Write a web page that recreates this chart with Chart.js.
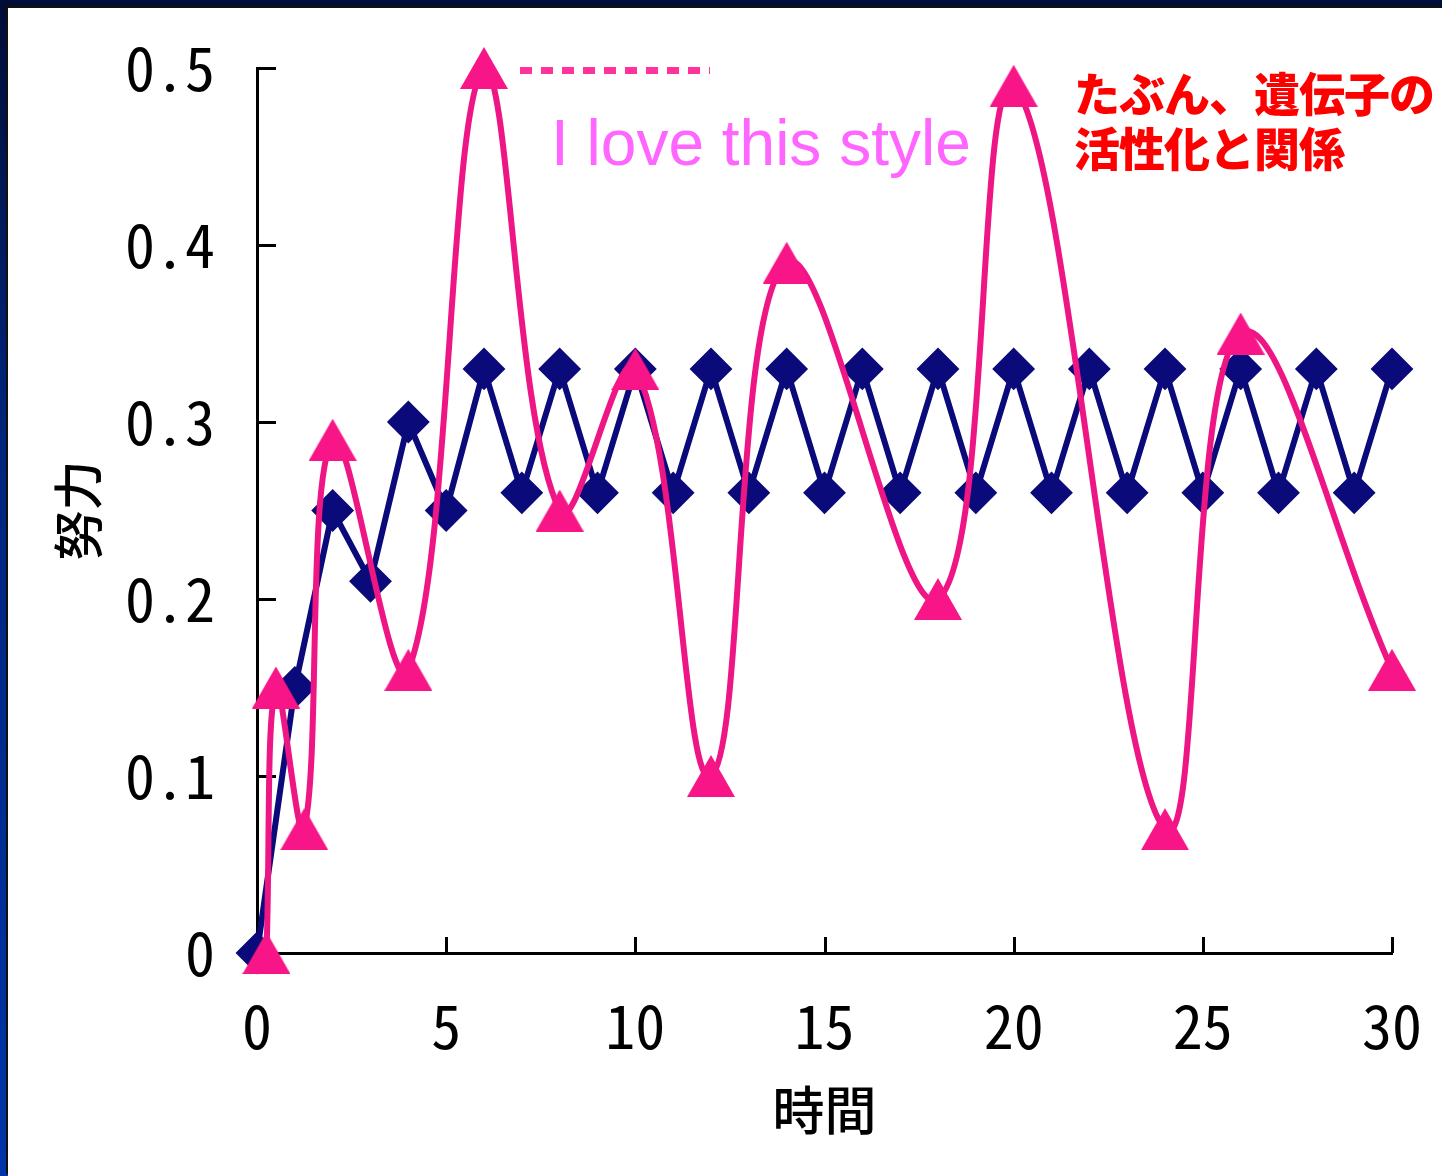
<!DOCTYPE html>
<html><head><meta charset="utf-8">
<script src="https://cdn.jsdelivr.net/npm/chart.js@4.4.1/dist/chart.umd.min.js"></script>
<style>
html,body{margin:0;padding:0;width:1442px;height:1176px;overflow:hidden;background:linear-gradient(to bottom,#000d36 0%,#00247a 35%,#0035a8 100%);}
#panel{position:absolute;left:8px;top:8px;width:1434px;height:1168px;background:#fff;box-shadow:-2px -2px 0 #111;}
canvas{position:absolute;left:0;top:0}
.ann{position:absolute;white-space:nowrap}
#dash{position:absolute;left:512px;top:59px;width:190px;height:7px;background:repeating-linear-gradient(to right,#ff3399 0px,#ff3399 12px,transparent 12px,transparent 21px);}
#love{left:543px;top:103px;font:64px/64px "Liberation Sans",Arial,sans-serif;color:#ff66ff;}
#jp{left:1066px;top:56px;font:900 46px/55px "Noto Sans CJK JP",sans-serif;color:#ff0000;letter-spacing:-1px;}
</style></head><body>
<div id="panel">
<canvas id="c" width="1434" height="1168"></canvas>
<div id="dash"></div>
<div class="ann" id="love">I love this style</div>
<div class="ann" id="jp">たぶん、遺伝子の<br>活性化と関係</div>
</div>
<script>
// ---- data ----
const blueX = [0,1,2,3,4,5,6,7,8,9,10,11,12,13,14,15,16,17,18,19,20,21,22,23,24,25,26,27,28,29,30];
const blueValues = [0,0.15,0.25,0.21,0.30,0.25,0.33,0.26,0.33,0.26,0.33,0.26,0.33,0.26,0.33,0.26,0.33,0.26,0.33,0.26,0.33,0.26,0.33,0.26,0.33,0.26,0.33,0.26,0.33,0.26,0.33];
const pinkX = [0.25,0.5,1.25,2,4,6,8,10,12,14,18,20,24,26,30];
const pinkValues = [0,0.15,0.07,0.29,0.16,0.5,0.25,0.33,0.10,0.39,0.20,0.49,0.07,0.35,0.16];
const xTickValues = [0,5,10,15,20,25,30];
const yTickValues = [0,0.1,0.2,0.3,0.4,0.5];
const xTitle = '時間';
const yTitle = '努力';

const toPts = (xs, ys) => xs.map((x, i) => ({x: x, y: ys[i]}));

// centred triangle marker (Excel style: bounding box centred on the point)
const tri = document.createElement('canvas');
tri.width = 48; tri.height = 42;
(function () {
  const g = tri.getContext('2d');
  g.fillStyle = '#f71588';
  g.beginPath(); g.moveTo(0, 42); g.lineTo(24, 0); g.lineTo(48, 42); g.closePath(); g.fill();
})();

const innerTicks = {
  id: 'innerTicks',
  beforeDatasetsDraw(chart) {
    const ctx = chart.ctx, xs = chart.scales.x, ys = chart.scales.y;
    const a = chart.chartArea;
    ctx.save();
    ctx.strokeStyle = '#000';
    ctx.lineWidth = 3;
    ctx.beginPath();
    yTickValues.forEach(v => {
      if (v === 0) return;
      const py = Math.round(ys.getPixelForValue(v)) + 0.5;
      ctx.moveTo(a.left, py); ctx.lineTo(a.left + 19, py);
    });
    xTickValues.forEach(v => {
      if (v === 0) return;
      const px = Math.round(xs.getPixelForValue(v)) + 0.5;
      ctx.moveTo(px, a.bottom); ctx.lineTo(px, a.bottom - 16);
    });
    ctx.stroke();
    ctx.restore();
  }
};

const tickFont = {family: '"Noto Sans Mono CJK JP","DejaVu Sans Mono",monospace', size: 60};

new Chart(document.getElementById('c'), {
  type: 'scatter',
  data: {
    datasets: [
      {
        label: 'pink',
        data: toPts(pinkX, pinkValues),
        showLine: true,
        borderColor: '#ee1685',
        backgroundColor: '#f71588',
        borderWidth: 6,
        tension: 0.4,
        pointStyle: tri,
        pointRadius: 24,
        pointBorderWidth: 0,
        pointBackgroundColor: '#f71588',
        clip: false,
        order: 0
      },
      {
        label: 'blue',
        data: toPts(blueX, blueValues),
        showLine: true,
        borderColor: '#0a0a7a',
        backgroundColor: '#0a0a7a',
        borderWidth: 6,
        tension: 0,
        pointStyle: 'rectRot',
        pointRadius: 20,
        pointBorderWidth: 2,
        pointBorderColor: '#0a0a7a',
        pointBackgroundColor: '#0a0a7a',
        clip: false,
        order: 1
      }
    ]
  },
  options: {
    responsive: false,
    animation: false,
    events: [],
    layout: {padding: {top: 60, right: 50, left: 0, bottom: 0}},
    plugins: {legend: {display: false}, tooltip: {enabled: false}},
    scales: {
      x: {
        type: 'linear', min: 0, max: 30,
        afterBuildTicks(s) { s.ticks = xTickValues.map(v => ({value: v})); },
        afterFit(s) { s.height = 223; s.paddingLeft = 0; s.paddingRight = 0; },
        grid: {display: false, drawTicks: false},
        border: {display: true, color: '#000', width: 3},
        ticks: {color: '#000', font: tickFont, padding: 37, maxRotation: 0},
        title: {display: true, text: xTitle, color: '#000',
                font: {family: '"Noto Sans CJK JP",sans-serif', size: 52, weight: 500}, padding: {top: 0, bottom: 35}}
      },
      y: {
        type: 'linear', min: 0, max: 0.5,
        afterBuildTicks(s) { s.ticks = yTickValues.map(v => ({value: v})); },
        afterFit(s) { s.width = 249; s.paddingTop = 0; s.paddingBottom = 0; },
        grid: {display: false, drawTicks: false},
        border: {display: true, color: '#000', width: 3},
        ticks: {color: '#000', font: tickFont, padding: 42},
        title: {display: true, text: yTitle, color: '#000',
                font: {family: '"Noto Sans CJK JP",sans-serif', size: 50, weight: 500}, padding: {top: 40, bottom: 0}}
      }
    }
  },
  plugins: [innerTicks]
});
</script>
</body></html>
